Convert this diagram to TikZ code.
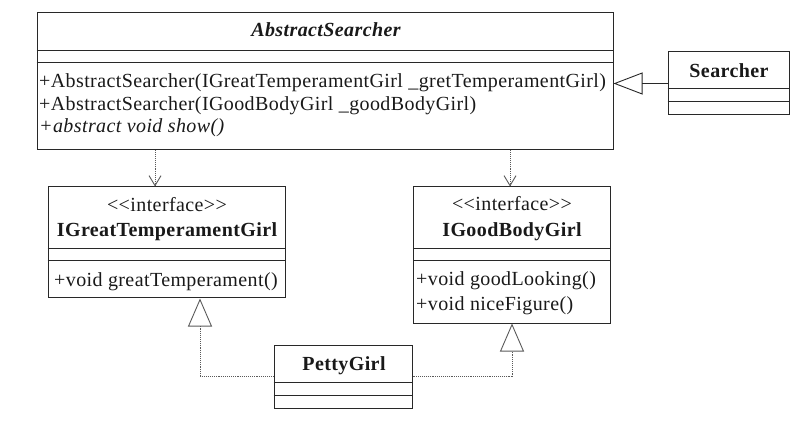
\documentclass[tikz,border=0pt]{standalone}
\usepackage{fontspec}
\setmainfont{Liberation Serif}[LetterSpace=2]
\usepackage{xcolor}
\usetikzlibrary{arrows.meta}

\definecolor{umlline}{RGB}{40,40,40}
\definecolor{umldot}{RGB}{90,90,90}

\tikzset{
  classbox/.style={draw=umlline, line width=1pt, inner sep=0pt},
  sepline/.style={draw=umlline, line width=1pt},
  lbl/.style={inner sep=0pt, anchor=base, font=\fontsize{20}{22}\selectfont, text=black!90},
  oplbl/.style={lbl, anchor=base west},
  dep/.style={densely dotted, draw=umldot, line width=0.9pt,
    -{Straight Barb[length=10pt,width=12pt,line width=0.9pt]}},
  real/.style={densely dotted, draw=umldot, line width=0.9pt,
    -{Triangle[open,length=28pt,width=24pt,line width=0.9pt]}},
  gen/.style={draw=umlline, line width=0.9pt,
    -{Triangle[open,length=29pt,width=22pt,line width=0.9pt]}}
}

\begin{document}
\begin{tikzpicture}[x=1pt,y=-1pt]
    \useasboundingbox (0,0) rectangle (809,422);
    % class boxes
    \node[classbox, minimum width=576pt, minimum height=137pt] (abs) at (325,81.5) {};
    \node[classbox, minimum width=121pt, minimum height=63pt] (srch) at (728.5,83.5) {};
    \node[classbox, minimum width=237pt, minimum height=111pt] (igt) at (166.5,242.5) {};
    \node[classbox, minimum width=197pt, minimum height=136pt] (igb) at (512,255) {};
    \node[classbox, minimum width=138pt, minimum height=63pt] (petty) at (343,376.5) {};
    % compartments
    \draw[sepline] (abs.west |- 0,51) -- (abs.east |- 0,51);
    \draw[sepline] (abs.west |- 0,63) -- (abs.east |- 0,63);
    \draw[sepline] (srch.west |- 0,89) -- (srch.east |- 0,89);
    \draw[sepline] (srch.west |- 0,102) -- (srch.east |- 0,102);
    \draw[sepline] (igt.west |- 0,248.5) -- (igt.east |- 0,248.5);
    \draw[sepline] (igt.west |- 0,261) -- (igt.east |- 0,261);
    \draw[sepline] (igb.west |- 0,248.5) -- (igb.east |- 0,248.5);
    \draw[sepline] (igb.west |- 0,261) -- (igb.east |- 0,261);
    \draw[sepline] (petty.west |- 0,382) -- (petty.east |- 0,382);
    \draw[sepline] (petty.west |- 0,395) -- (petty.east |- 0,395);
    % texts
    \node[lbl, font=\fontsize{20}{22}\selectfont\bfseries\itshape] (abs-name) at (326,37) {AbstractSearcher};
    \node[oplbl] (abs-op1) at (39,88) {+AbstractSearcher(IGreatTemperamentGirl \_gretTemperamentGirl)};
    \node[oplbl] (abs-op2) at (39,110.5) {+AbstractSearcher(IGoodBodyGirl \_goodBodyGirl)};
    \node[oplbl, font=\fontsize{20}{22}\selectfont\itshape] (abs-op3) at (39,133) {+abstract void show()};
    \node[lbl, font=\fontsize{20}{22}\selectfont\bfseries] (srch-name) at (729,78) {Searcher};
    \node[lbl] (igt-st) at (167,211.5) {<{}<interface>{}>};
    \node[lbl, font=\fontsize{20}{22}\selectfont\bfseries] (igt-name) at (167,236.5) {IGreatTemperamentGirl};
    \node[oplbl] (igt-op1) at (54,286.5) {+void greatTemperament()};
    \node[lbl] (igb-st) at (512,210.5) {<{}<interface>{}>};
    \node[lbl, font=\fontsize{20}{22}\selectfont\bfseries] (igb-name) at (512,236.5) {IGoodBodyGirl};
    \node[oplbl] (igb-op1) at (416,286) {+void goodLooking()};
    \node[oplbl] (igb-op2) at (416,310) {+void niceFigure()};
    \node[lbl, font=\fontsize{20}{22}\selectfont\bfseries] (petty-name) at (344,370.5) {PettyGirl};
    % connectors
    \coordinate (d1) at (155,0);
    \coordinate (d2) at (510,0);
    \coordinate (r1) at (200,0);
    \draw[dep] (abs.south -| d1) -- (igt.north -| d1);
    \draw[dep] (abs.south -| d2) -- (igb.north -| d2);
    \draw[gen] (srch.west) -- (abs.east |- srch.west);
    \draw[real] (petty.west) -| (igt.south -| r1);
    \draw[real] (petty.east) -| (igb.south);
\end{tikzpicture}
\end{document}
